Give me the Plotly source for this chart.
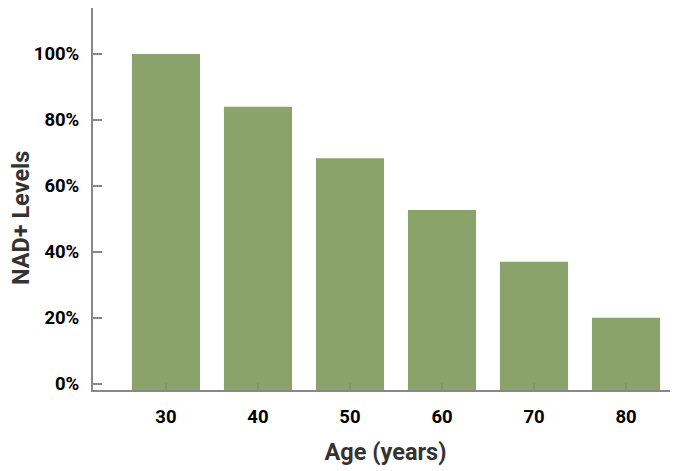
import plotly.graph_objects as go

ages = ["30", "40", "50", "60", "70", "80"]
nad_levels = [100, 84, 68.4, 52.7, 37, 20]
y_tick_vals = [0, 20, 40, 60, 80, 100]
y_tick_text = ["0%", "20%", "40%", "60%", "80%", "100%"]

y_min, y_max = -1.94, 113.95
x_min, x_max = -0.793, 5.565

fig = go.Figure()
fig.add_trace(go.Bar(
    x=ages,
    y=[v - y_min for v in nad_levels],
    base=y_min,
    marker=dict(color="rgb(126,154,92)", line=dict(width=0)),
    opacity=0.9,
    width=0.74,
    hoverinfo="skip",
))

axis_grey = "rgb(136,136,136)"
fig.update_layout(
    width=670, height=463,
    margin=dict(l=85, r=0, t=0, b=81, autoexpand=False),
    paper_bgcolor="white", plot_bgcolor="white",
    showlegend=False,
    font=dict(family="Roboto", color="black"),
    xaxis=dict(
        type="category", range=[x_min, x_max], automargin=False,
        showline=True, linecolor=axis_grey, linewidth=2,
        ticks="inside", ticklen=7, tickwidth=1.5, tickcolor=axis_grey,
        showgrid=False, zeroline=False, layer="below traces",
        tickfont=dict(family="Roboto", size=18.5, color="black", weight="bold"),
        ticklabelstandoff=9,
        title=dict(text="Age (years)", standoff=16,
                   font=dict(family="Roboto", size=23.5, color="#333333", weight="bold")),
    ),
    yaxis=dict(
        range=[y_min, y_max], automargin=False,
        tickvals=y_tick_vals, ticktext=y_tick_text,
        showline=True, linecolor=axis_grey, linewidth=2,
        ticks="inside", ticklen=9, tickwidth=2, tickcolor=axis_grey,
        showgrid=False, zeroline=False, layer="below traces",
        tickfont=dict(family="Roboto", size=18.5, color="black", weight="bold"),
        ticklabelstandoff=8,
    ),
    annotations=[dict(
        text="NAD+ Levels", textangle=-90,
        xref="paper", yref="paper", x=-0.1231, y=0.45,
        xanchor="center", yanchor="middle", showarrow=False, borderpad=0,
        font=dict(family="Roboto", size=23.5, color="#333333", weight="bold"),
    )],
)

fig.write_html("out.html")
